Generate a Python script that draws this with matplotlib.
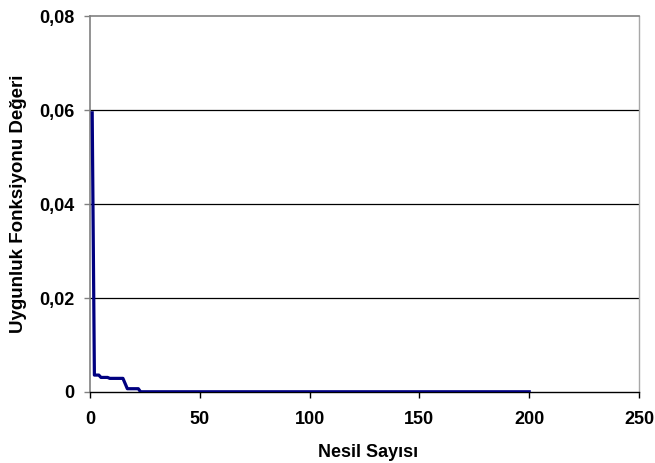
import matplotlib.pyplot as plt
from matplotlib.ticker import FuncFormatter

# Uygunluk değeri, nesillere göre (kırılma noktaları)
nesil = [1, 2, 4, 5, 8, 9, 15, 17, 22, 23, 200]
uygunluk = [0.0594, 0.0036, 0.0036, 0.0031, 0.0031, 0.0029, 0.0029,
            0.0007, 0.0007, 0.00005, 0.00005]

x_ticks = [0, 50, 100, 150, 200, 250]
y_ticks = [0, 0.02, 0.04, 0.06, 0.08]

plt.rcParams['font.family'] = ['Liberation Sans', 'DejaVu Sans']
plt.rcParams['font.weight'] = 'bold'

fig = plt.figure(figsize=(6.55, 4.63), dpi=100)
ax = fig.add_axes([90 / 655, 71 / 463, 549 / 655, 376 / 463])

ax.plot(nesil, uygunluk, color='#000080', linewidth=2.3, solid_joinstyle='round', zorder=3)

ax.set_xlim(0, 250)
ax.set_ylim(0, 0.08)
ax.set_xticks(x_ticks)
ax.set_yticks(y_ticks)
ax.yaxis.set_major_formatter(FuncFormatter(lambda v, p: '0' if v == 0 else f'{v:.2f}'.replace('.', ',')))

# yatay ızgara çizgileri
for y in y_ticks[1:4]:
    ax.axhline(y, color='black', linewidth=0.9, zorder=1)

ax.spines['top'].set_color('#808080')
ax.spines['top'].set_linewidth(1.2)
ax.spines['right'].set_color('#a8a8a8')
ax.spines['right'].set_linewidth(1.0)
ax.spines['left'].set_color('#808080')
ax.spines['left'].set_linewidth(1.2)
ax.spines['bottom'].set_color('black')
ax.spines['bottom'].set_linewidth(1.0)

ax.tick_params(axis='both', direction='out', length=4, width=1, labelsize=13, colors='black')
ax.tick_params(axis='x', pad=10)
ax.tick_params(axis='y', color='#808080', pad=7)
for lbl in ax.get_xticklabels() + ax.get_yticklabels():
    lbl.set_fontweight('bold')

ax.set_xlabel('Nesil Sayısı', fontsize=13, fontweight='bold', labelpad=11.5)
ax.set_ylabel('Uygunluk Fonksiyonu Değeri', fontsize=13.5, fontweight='bold', labelpad=9)
ax.xaxis.label.set_x(0.507)

fig.savefig('out.png', dpi=100)
